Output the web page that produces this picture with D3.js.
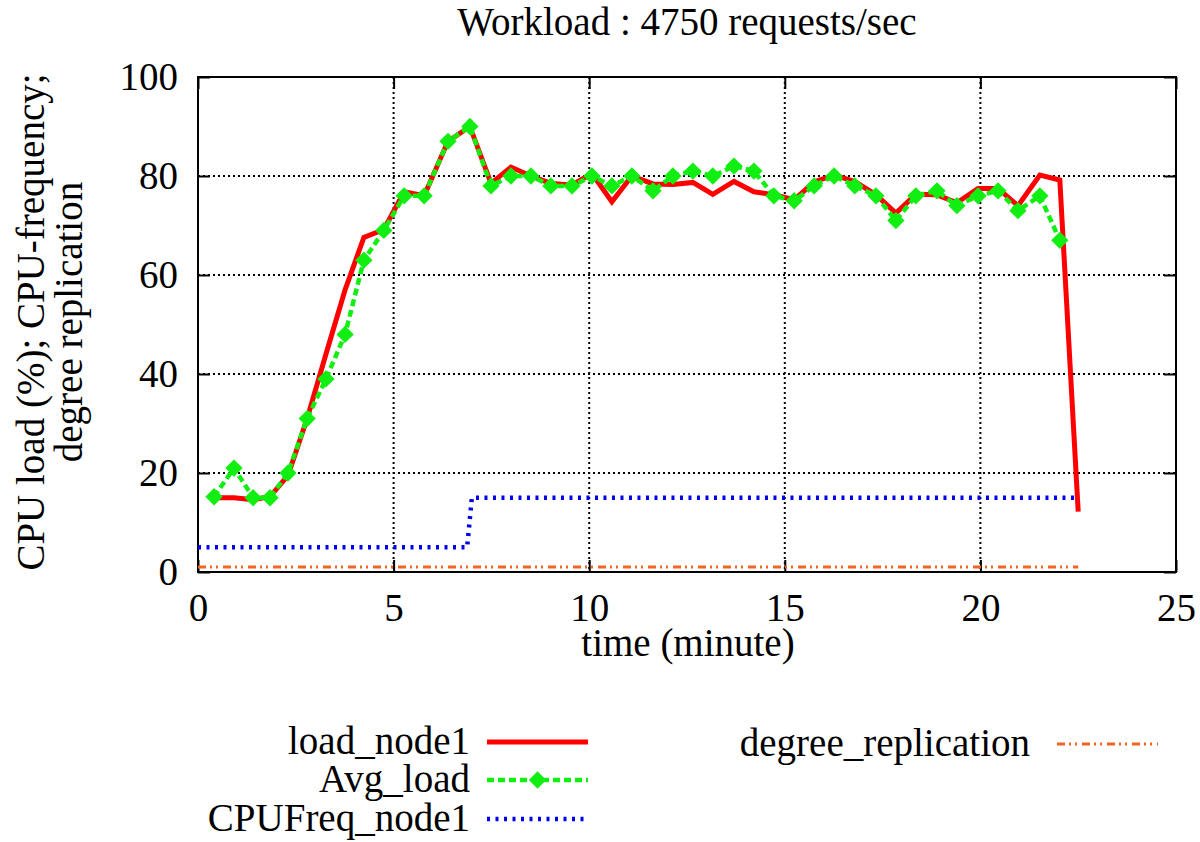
<!DOCTYPE html>
<html>
<head>
<meta charset="utf-8">
<script src="https://cdn.jsdelivr.net/npm/d3@7"></script>
<style>
  body { margin: 0; background: #fff; }
</style>
</head>
<body>
<div id="chart"></div>
<script>
// sample times (minutes) shared by the load series
const times = [0.41, 0.92, 1.41, 1.84, 2.30, 2.79, 3.27, 3.76, 4.24, 4.75, 5.27, 5.78, 6.39, 6.95, 7.49,
  8.00, 8.51, 9.02, 9.56, 10.07, 10.58, 11.09, 11.63, 12.14, 12.65, 13.16, 13.70, 14.21, 14.72, 15.24,
  15.75, 16.26, 16.79, 17.33, 17.84, 18.35, 18.89, 19.40, 19.94, 20.45, 20.96, 21.52, 22.03]

const avgLoad = [15.2, 21, 15, 15, 20, 31, 39, 48, 63, 69, 76, 76, 87, 90, 78,
  80, 80, 78, 78, 80, 78, 80, 77, 80, 81, 80, 82, 81, 76, 75,
  78, 80, 78, 76, 71, 76, 77, 74, 76, 77, 73, 76, 67]

const loadTimes = times.concat([22.5])
const loadNode1 = [15, 15, 14.6, 15.2, 19.5, 31, 44, 57, 67.6, 69.2, 76.8, 76, 87, 90, 78.5,
  81.8, 80, 78.5, 78.2, 80.5, 74.8, 80, 78.4, 78.3, 78.7, 76.3, 78.9, 76.8, 76.2, 75.2,
  78.8, 80.2, 78.9, 76.2, 72.5, 76.3, 76.2, 74.6, 77.5, 77.5, 74, 80.2, 79.2, 12.2]

const freqTimes = [0, 6.88, 7.0, 22.45]
const cpuFreq = [5, 5, 15, 15]

const replTimes = [0, 22.5]
const degreeRepl = [1, 1]

const xTicks = [0, 5, 10, 15, 20, 25]
const yTicks = [0, 20, 40, 60, 80, 100]

const width = 1200, height = 842
const plot = { left: 198, right: 1176, top: 77, bottom: 572 }
const FONT = '"Liberation Serif", "Times New Roman", Times, "DejaVu Serif", serif'
const FS = '39px'

const x = d3.scaleLinear().domain([0, 25]).range([plot.left, plot.right])
const y = d3.scaleLinear().domain([0, 100]).range([plot.bottom, plot.top])

const svg = d3.select('#chart').append('svg')
  .attr('width', width)
  .attr('height', height)
  .attr('font-family', FONT)

// grid
const grid = svg.append('g')
grid.selectAll('.gx')
  .data(xTicks.filter(d => d > 0 && d < 25))
  .enter().append('line')
  .attr('x1', d => x(d)).attr('x2', d => x(d))
  .attr('y1', plot.top).attr('y2', plot.bottom)
grid.selectAll('.gy')
  .data(yTicks.filter(d => d > 0 && d < 100))
  .enter().append('line')
  .attr('x1', plot.left).attr('x2', plot.right)
  .attr('y1', d => y(d)).attr('y2', d => y(d))
grid.selectAll('line')
  .attr('stroke', '#000')
  .attr('stroke-width', 2)
  .attr('stroke-dasharray', '2,3')

// axes with inward ticks, mirrored like gnuplot
const tickLen = 12
svg.append('g')
  .attr('transform', 'translate(0,' + plot.bottom + ')')
  .call(d3.axisBottom(x).tickValues(xTicks).tickSizeInner(-tickLen).tickSizeOuter(0).tickPadding(21))
svg.append('g')
  .attr('transform', 'translate(0,' + plot.top + ')')
  .call(d3.axisTop(x).tickValues(xTicks).tickSizeInner(-tickLen).tickSizeOuter(0).tickFormat(''))
svg.append('g')
  .attr('transform', 'translate(' + plot.left + ',0)')
  .call(d3.axisLeft(y).tickValues(yTicks).tickSizeInner(-tickLen).tickSizeOuter(0).tickPadding(20))
svg.append('g')
  .attr('transform', 'translate(' + plot.right + ',0)')
  .call(d3.axisRight(y).tickValues(yTicks).tickSizeInner(-tickLen).tickSizeOuter(0).tickFormat(''))

svg.selectAll('.domain').remove()
svg.selectAll('g').attr('font-family', FONT).attr('font-size', FS)
svg.selectAll('.tick line').attr('stroke', '#000').attr('stroke-width', 2)
svg.selectAll('.tick text').attr('fill', '#000')

// border
svg.append('rect')
  .attr('x', plot.left).attr('y', plot.top)
  .attr('width', plot.right - plot.left).attr('height', plot.bottom - plot.top)
  .attr('fill', 'none').attr('stroke', '#000').attr('stroke-width', 2)

const series = [
  { name: 'load_node1', t: loadTimes, v: loadNode1, color: '#ff0000', width: 5, dash: null },
  { name: 'Avg_load', t: times, v: avgLoad, color: '#11ee11', width: 4.5, dash: '7,4', marker: true },
  { name: 'CPUFreq_node1', t: freqTimes, v: cpuFreq, color: '#0000ee', width: 4.5, dash: '3,5.5' },
  { name: 'degree_replication', t: replTimes, v: degreeRepl, color: '#f26522', width: 3, dash: '8,4,2,4,2,5' },
]

const line = d3.line().x(d => x(d[0])).y(d => y(d[1]))
const diamond = d3.symbol().type(d3.symbolSquare).size(150)

series.forEach(s => {
  const pts = s.t.map((t, i) => [t, s.v[i]])
  svg.append('path')
    .attr('d', line(pts))
    .attr('fill', 'none')
    .attr('stroke', s.color)
    .attr('stroke-width', s.width)
    .attr('stroke-dasharray', s.dash)
  if (s.marker) {
    svg.append('g').selectAll('path')
      .data(pts)
      .enter().append('path')
      .attr('d', diamond)
      .attr('fill', s.color)
      .attr('transform', d => 'translate(' + x(d[0]) + ',' + y(d[1]) + ') rotate(45)')
  }
})

function label(sel) {
  return sel.attr('font-family', FONT).attr('font-size', FS).attr('fill', '#000')
}

// title and labels
label(svg.append('text'))
  .attr('x', 687).attr('y', 35)
  .attr('text-anchor', 'middle')
  .text('Workload : 4750 requests/sec')

label(svg.append('text'))
  .attr('x', 688).attr('y', 656)
  .attr('text-anchor', 'middle')
  .text('time (minute)')

const ylab = label(svg.append('text'))
  .attr('transform', 'translate(44,322) rotate(-90)')
  .attr('text-anchor', 'middle')
ylab.append('tspan').attr('x', 0).attr('dy', 0).text('CPU load (%); CPU-frequency;')
ylab.append('tspan').attr('x', 0).attr('dy', 38).text('degree replication')

// legend
const legendPos = [
  { tx: 470, sx: 487, y: 742 },
  { tx: 470, sx: 487, y: 780 },
  { tx: 470, sx: 487, y: 819 },
  { tx: 1030, sx: 1057, y: 744 },
]
const legend = svg.append('g')
series.forEach((s, i) => {
  const p = legendPos[i]
  label(legend.append('text'))
    .attr('x', p.tx).attr('y', p.y + 12)
    .attr('text-anchor', 'end')
    .text(s.name)
  legend.append('line')
    .attr('x1', p.sx).attr('x2', p.sx + 101)
    .attr('y1', p.y).attr('y2', p.y)
    .attr('stroke', s.color)
    .attr('stroke-width', s.width)
    .attr('stroke-dasharray', s.dash)
  if (s.marker) {
    legend.append('path')
      .attr('d', diamond)
      .attr('fill', s.color)
      .attr('transform', 'translate(' + (p.sx + 50.5) + ',' + p.y + ') rotate(45)')
  }
})
</script>
</body>
</html>
